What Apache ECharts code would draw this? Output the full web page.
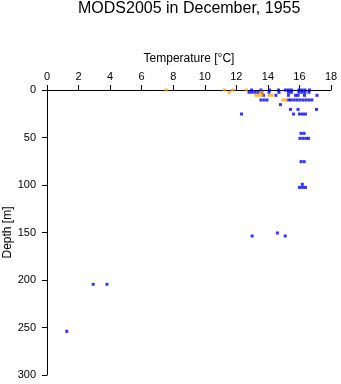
<!DOCTYPE html>
<html>
<head>
<meta charset="utf-8">
<script src="https://cdn.jsdelivr.net/npm/echarts@6/dist/echarts.min.js"></script>
<style>
html,body{margin:0;padding:0;background:#fff;}
#c{width:341px;height:384px;}
</style>
</head>
<body>
<div id="c"></div>
<script>
const titleText = "MODS2005 in December, 1955";
const xName = "Temperature [°C]";
const yName = "Depth [m]";

// blue observations: [temperature °C, depth m]
const blueTemp = [
  12.96, 13.56, 14.10, 14.67, 15.11, 15.30, 15.49, 15.97, 16.16, 16.35, 16.64,
  12.80, 12.99, 13.18, 13.37, 13.62, 14.07, 14.70, 15.30, 15.49, 15.97, 16.16, 16.35, 16.60,
  13.72, 14.51, 15.30, 15.75, 15.91, 16.32, 17.11,
  13.56, 13.75, 13.94, 15.30, 15.46, 15.65, 15.84, 16.03, 16.22, 16.41, 16.60, 16.79,
  14.80,
  15.43, 15.91, 17.08,
  12.33, 15.62, 16.00, 16.19, 16.38,
  16.10, 16.29,
  16.03, 16.22, 16.41, 16.57,
  16.10, 16.30,
  16.18,
  16.00, 16.19, 16.38,
  14.60,
  13.00, 15.10,
  2.93, 3.80,
  1.25
];
const blueDepth = [
  0, 0, 0, 0, 0, 0, 0, 0, 0, 0, 0,
  2.4, 2.4, 2.4, 2.4, 2.4, 2.4, 2.4, 2.4, 2.4, 2.4, 2.4, 2.4, 2.4,
  5.6, 5.6, 5.6, 5.6, 5.6, 5.6, 5.6,
  10.5, 10.5, 10.5, 10.5, 10.5, 10.5, 10.5, 10.5, 10.5, 10.5, 10.5, 10.5,
  15.4,
  20.4, 20.4, 20.4,
  25.3, 25.3, 25.3, 25.3, 25.3,
  45.6, 45.6,
  50.9, 50.9, 50.9, 50.9,
  75.4, 75.4,
  99.3,
  102.5, 102.5, 102.5,
  150.5,
  153.7, 153.7,
  204.5, 204.5,
  254
];

// orange observations
const orangeTemp = [7.55, 11.24, 11.77, 12.64, 11.55, 13.60, 13.24, 13.43, 13.62, 14.07, 14.26, 14.96, 15.15];
const orangeDepth = [0, 0, 0, 0, 2.4, 2.4, 5.6, 5.6, 5.6, 5.6, 5.6, 10.5, 10.5];

const xMin = 0, xMax = 18, xStep = 2;
const yMin = 0, yMax = 300, yStep = 50;

const blueData = blueTemp.map((t, i) => [t, blueDepth[i]]);
const orangeData = orangeTemp.map((t, i) => [t, orangeDepth[i]]);

const font = "'Liberation Sans', Arial, Helvetica, sans-serif";
const chart = echarts.init(document.getElementById('c'), null, {renderer: 'canvas'});
chart.setOption({
  animation: false,
  backgroundColor: '#fff',
  title: {
    text: titleText,
    left: 78,
    top: 1,
    padding: 0,
    textStyle: {fontFamily: font, fontSize: 16, fontWeight: 'normal', color: '#000'}
  },
  grid: {left: 47, right: 10, top: 90, bottom: 9, containLabel: false, outerBoundsMode: 'none'},
  xAxis: {
    type: 'value', position: 'top', min: xMin, max: xMax, interval: xStep,
    name: xName, nameLocation: 'middle', nameGap: 25, nameMoveOverlap: false,
    nameTextStyle: {fontFamily: font, fontSize: 12, color: '#000'},
    axisLine: {show: true, onZero: false, lineStyle: {color: '#000', width: 1}},
    axisTick: {show: true, inside: false, length: 5, lineStyle: {color: '#000'}},
    axisLabel: {fontFamily: font, fontSize: 11, color: '#000', margin: 8},
    splitLine: {show: false}
  },
  yAxis: {
    type: 'value', inverse: true, min: yMin, max: yMax, interval: yStep,
    name: yName, nameLocation: 'middle', nameGap: 33, nameRotate: 90, nameMoveOverlap: false,
    nameTextStyle: {fontFamily: font, fontSize: 12, color: '#000'},
    axisLine: {show: true, onZero: false, lineStyle: {color: '#000', width: 1}},
    axisTick: {show: true, inside: false, length: 5, lineStyle: {color: '#000'}},
    axisLabel: {fontFamily: font, fontSize: 11, color: '#000', margin: 11},
    splitLine: {show: false}
  },
  series: [
    {type: 'scatter', data: blueData, symbol: 'rect', symbolSize: [3, 3],
     itemStyle: {color: '#0000ff'}, silent: true},
    {type: 'scatter', data: orangeData, symbol: 'rect', symbolSize: [3, 3],
     itemStyle: {color: '#ffa500'}, silent: true}
  ]
});
</script>
</body>
</html>
